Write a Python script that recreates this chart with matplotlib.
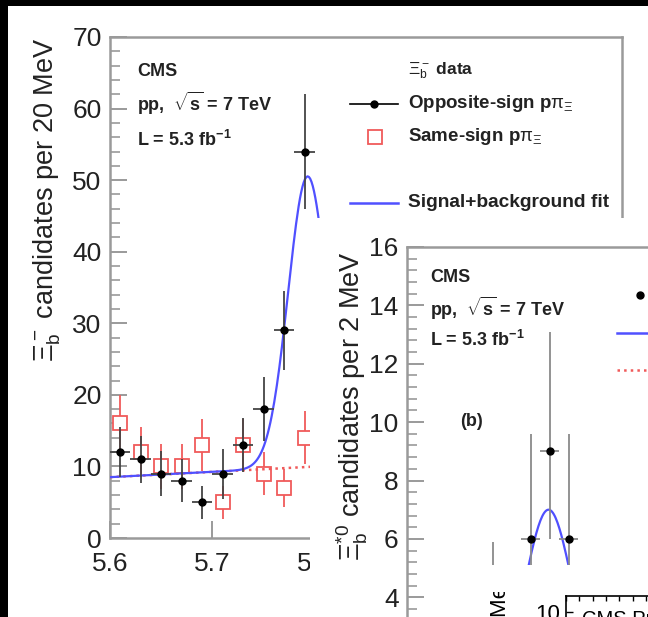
import numpy as np
import matplotlib.pyplot as plt
from matplotlib.ticker import MultipleLocator
from matplotlib.transforms import Bbox, TransformedBbox

plt.rcParams['font.family'] = 'Liberation Sans'
plt.rcParams['mathtext.fontset'] = 'custom'
plt.rcParams['mathtext.rm'] = 'Liberation Sans'
plt.rcParams['mathtext.it'] = 'Liberation Sans:italic'
plt.rcParams['mathtext.bf'] = 'Liberation Sans:bold'

W, H = 648, 617

# panel (a): Xi_b- mass in GeV, 20 MeV bins
mass_a = [5.61, 5.63, 5.65, 5.67, 5.69, 5.71, 5.73, 5.75, 5.77, 5.79]
os_counts = [12, 11, 9, 8, 5, 9, 13, 18, 29, 54]
os_err = [3.5, 3.3, 3.2, 3.0, 2.3, 3.5, 3.8, 4.5, 5.5, 8.0]
ss_counts = [16, 12, 10, 10, 13, 5, 13, 9, 7, 14]
ss_err = [4.0, 3.5, 3.2, 3.2, 3.6, 2.3, 3.6, 3.0, 2.7, 3.7]
# fit: gaussian + linear background
fit_a_mean, fit_a_sigma, fit_a_amp = 5.793, 0.019, 40.6
bkg_a_at_560, bkg_a_slope = 8.5, 7.4

# panel (b): Xi_b*0, Q value in MeV, 2 MeV bins
q_b = [5, 9, 13, 15, 17]
counts_b = [1, 3, 6, 9, 6]
err_b_lo = [0.8, 1.6, 2.4, 3.0, 2.4]
err_b_hi = [2.1, 2.9, 3.6, 4.1, 3.6]
fit_b_mean, fit_b_sigma, fit_b_amp, bkg_b = 14.9, 2.4, 6.0, 1.0

BLUE = '#5050ff'
RED = '#f05a5a'
GREY = '#9a9a9a'

fig = plt.figure(figsize=(W / 100, H / 100), dpi=100, facecolor='black')


def rect(x0, y0, x1, y1):
    # pixel box (top-left origin) -> figure fraction
    return [x0 / W, 1 - y1 / H, (x1 - x0) / W, (y1 - y0) / H]


def fp(x, y):
    return x / W, 1 - y / H


def blank(x0, y0, x1, y1):
    a = fig.add_axes(rect(x0, y0, x1, y1))
    a.set_xticks([])
    a.set_yticks([])
    for s in a.spines.values():
        s.set_visible(False)
    a.set_facecolor('white')
    return a


def root_style(a, mnr):
    for s in a.spines.values():
        s.set_color(GREY)
        s.set_linewidth(1.8)
    a.yaxis.set_minor_locator(MultipleLocator(mnr))
    a.tick_params(which='both', direction='in', color=GREY, labelcolor='#222222',
                  labelsize=19)
    a.tick_params(which='major', length=12, width=1.4)
    a.tick_params(which='minor', length=7, width=1.2)
    a.tick_params(axis='y', pad=6)
    a.tick_params(axis='x', pad=10)


# ---------------- panel (a) ----------------
canvas = blank(8, 6, W, H)
canvas.text(*fp(47, 38), r'$\Xi_\mathrm{b}^-$ candidates per 20 MeV', rotation=90,
            ha='center', va='top', fontsize=19.5, color='#222222',
            transform=fig.transFigure)

ax = fig.add_axes(rect(110, 37, 622, 538))
ax.set_xlim(5.6, 6.1)
ax.set_ylim(0, 70)
root_style(ax, 2)
ax.set_yticks(range(0, 71, 10))
ax.set_xticks([5.6, 5.7, 5.8])
ax.set_xticklabels(['5.6', '5.7', '5.8'])

m = np.linspace(5.6, 6.1, 400)
bkg_a = bkg_a_at_560 + bkg_a_slope * (m - 5.6)
sig_a = fit_a_amp * np.exp(-0.5 * ((m - fit_a_mean) / fit_a_sigma) ** 2)

ax.errorbar(mass_a, ss_counts, yerr=ss_err, fmt='s', ms=10, mfc='white', mec=RED, mew=1.3,
            ecolor=RED, elinewidth=1.3, capsize=0, zorder=2)
ax.plot(m, bkg_a, color=RED, ls=':', lw=1.8, zorder=3)
ax.plot(m, bkg_a + sig_a, color=BLUE, lw=1.6, zorder=4)
ax.errorbar(mass_a, os_counts, yerr=os_err, xerr=0.01, fmt='o', ms=5, color='black',
            ecolor='#444444', elinewidth=1.3, capsize=0, zorder=5)

for y, s in [(72, 'CMS'), (103, r'pp,  $\sqrt{\mathbf{s}}$ = 7 TeV'), (140, r'L = 5.3 fb$^{\mathbf{-1}}$')]:
    ax.text(*fp(137, y), s, fontsize=13, fontweight='bold', va='center', ha='left',
            color='#222222', transform=fig.transFigure)

# legend of panel (a)
ax.text(*fp(408, 71), r'$\Xi_\mathrm{b}^-$ data', fontsize=12.5, fontweight='bold',
        va='center', color='#222222', transform=fig.transFigure)
ax.plot([350 / W, 398 / W], [1 - 104 / H] * 2, color='black', lw=1.2,
        transform=fig.transFigure, clip_on=False)
ax.plot([374 / W], [1 - 104 / H], 'o', color='black', ms=5,
        transform=fig.transFigure, clip_on=False)
ax.text(*fp(408, 104), r'Opposite-sign p$\mathrm{\pi}_\Xi$', fontsize=13.5, fontweight='bold',
        va='center', color='#222222', transform=fig.transFigure)
ax.plot([375 / W], [1 - 137 / H], 's', ms=10, mfc='white', mec=RED, mew=1.3,
        transform=fig.transFigure, clip_on=False)
ax.text(*fp(408, 136), r'Same-sign p$\mathrm{\pi}_\Xi$', fontsize=13.5, fontweight='bold',
        va='center', color='#222222', transform=fig.transFigure)
ax.plot([350 / W, 398 / W], [1 - 203 / H] * 2, color=BLUE, lw=1.8,
        transform=fig.transFigure, clip_on=False)
ax.text(*fp(408, 203), 'Signal+background fit', fontsize=13.8, fontweight='bold',
        va='center', color='#222222', transform=fig.transFigure)

# ---------------- panel (b) ----------------
canvas_b = blank(310, 218, W, H)
canvas_b.text(*fp(352, 251), r'$\Xi_\mathrm{b}^{*0}$ candidates per 2 MeV', rotation=90,
              ha='center', va='top', fontsize=19.5, color='#222222',
              transform=fig.transFigure)

axb = fig.add_axes(rect(407, 247, 787, 714))
axb.set_xlim(0, 40)
axb.set_ylim(0, 16)
root_style(axb, 0.4)
axb.set_yticks(range(4, 17, 2))
axb.set_xticks([])

q = np.linspace(0, 40, 400)
fit_b = bkg_b + fit_b_amp * np.exp(-0.5 * ((q - fit_b_mean) / fit_b_sigma) ** 2)
axb.plot(q, np.full_like(q, bkg_b), color=RED, ls=':', lw=1.8, zorder=3)
axb.plot(q, fit_b, color=BLUE, lw=1.6, zorder=4)
axb.errorbar(q_b, counts_b, yerr=[err_b_lo, err_b_hi], xerr=1, fmt='o', ms=5,
             color='black', ecolor='#8a8a8a', elinewidth=1.3, capsize=0, zorder=5)

for y, s in [(278, 'CMS'), (308, r'pp,  $\sqrt{\mathbf{s}}$ = 7 TeV'), (340, r'L = 5.3 fb$^{\mathbf{-1}}$')]:
    axb.text(*fp(430, y), s, fontsize=13, fontweight='bold', va='center', ha='left',
             color='#222222', transform=fig.transFigure)
axb.text(*fp(460, 422), '(b)', fontsize=13, fontweight='bold', va='center', ha='left',
         color='#222222', transform=fig.transFigure)

# legend of panel (b), only its left edge is inside the picture
axb.plot([640 / W], [1 - 295 / H], 'o', color='black', ms=5,
         transform=fig.transFigure, clip_on=False)
axb.plot([617 / W, 660 / W], [1 - 333 / H] * 2, color=BLUE, lw=1.8,
         transform=fig.transFigure, clip_on=False)
axb.plot([617 / W, 660 / W], [1 - 370 / H] * 2, color=RED, ls=':', lw=1.8,
         transform=fig.transFigure, clip_on=False)

# ---------------- third panel, cut at the corner ----------------
canvas_c = blank(470, 565, W, H)
t = canvas_c.text(*fp(500, 571), 'Events / 5 MeV', rotation=90, ha='center', va='top',
                  fontsize=16, color='black', transform=fig.transFigure)
t.set_clip_on(True)
t.set_clip_box(TransformedBbox(Bbox([[0, 0], [1, (H - 592) / H]]), fig.transFigure))

axc = fig.add_axes(rect(566, 596, 866, 692))
axc.set_xlim(0, 22.5)
axc.set_ylim(0, 12)
for s in axc.spines.values():
    s.set_color('black')
    s.set_linewidth(1.2)
axc.xaxis.set_major_locator(MultipleLocator(1))
axc.set_yticks([10])
axc.tick_params(axis='x', which='both', direction='in', top=True, bottom=False,
                labeltop=False, labelbottom=False, length=3.5, width=1)
axc.tick_params(axis='y', direction='in', length=5, width=1, labelsize=16, pad=4,
                labelcolor='black')
axc.text(*fp(582, 610), 'CMS Preliminary', fontsize=14.5, va='top', ha='left',
         color='black', transform=fig.transFigure)

fig.savefig('out.png', dpi=100, facecolor='black')
